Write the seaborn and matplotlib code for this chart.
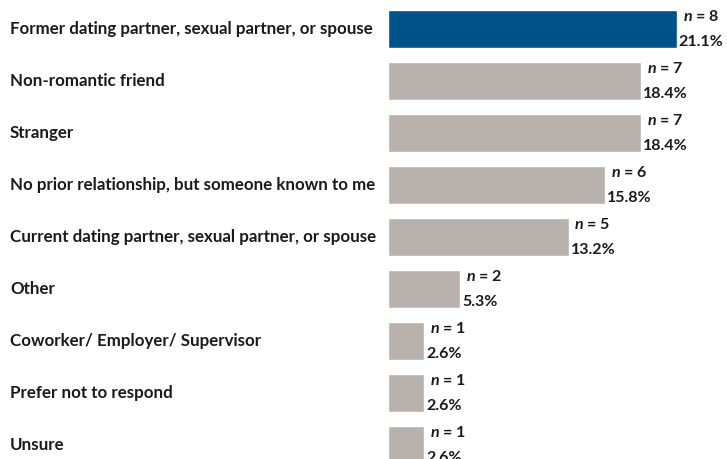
import matplotlib

matplotlib.use("Agg")
import matplotlib.pyplot as plt
import pandas as pd
import seaborn as sns

# Chart data
categories = [
    "Former dating partner, sexual partner, or spouse",
    "Non-romantic friend",
    "Stranger",
    "No prior relationship, but someone known to me",
    "Current dating partner, sexual partner, or spouse",
    "Other",
    "Coworker/ Employer/ Supervisor",
    "Prefer not to respond",
    "Unsure",
]
counts = [8, 7, 7, 6, 5, 2, 1, 1, 1]
percents = ["21.1%", "18.4%", "18.4%", "15.8%", "13.2%", "5.3%", "2.6%", "2.6%", "2.6%"]

BLUE = "#00538a"
GRAY = "#b8b1ac"
TEXT_COLOR = "#1a1a1a"

sns.set_style("white")
plt.rcParams["font.family"] = ["Lato", "DejaVu Sans"]
plt.rcParams["mathtext.fontset"] = "custom"
plt.rcParams["mathtext.it"] = "Lato:italic:bold"
plt.rcParams["mathtext.rm"] = "Lato:bold"

df = pd.DataFrame({"category": categories, "n": counts, "pct": percents})
df["highlight"] = ["top" if i == 0 else "rest" for i in range(len(df))]

fig = plt.figure(figsize=(7.27, 4.59), dpi=100)
ax = fig.add_axes([388 / 727, 1 - 471 / 459, 1 - 388 / 727, 468 / 459])

sns.barplot(
    data=df,
    x="n",
    y="category",
    hue="highlight",
    palette={"top": BLUE, "rest": GRAY},
    saturation=1,
    dodge=False,
    width=0.73,
    legend=False,
    ax=ax,
)

ax.set_xlim(0, (727 - 388) / 36.1)
ax.set_ylim(len(df) - 0.5, -0.5)
ax.set_xlabel("")
ax.set_ylabel("")
ax.set_xticks([])
ax.set_yticks([])
for s in ax.spines.values():
    s.set_visible(False)

# category labels at the left edge of the figure
for i, cat in enumerate(categories):
    ax.annotate(
        cat,
        xy=(0, i),
        xycoords=("figure fraction", "data"),
        xytext=(10, 0),
        textcoords="offset pixels",
        ha="left",
        va="center",
        fontsize=12.2,
        fontweight="bold",
        color=TEXT_COLOR,
    )

# n and percentage beside each bar
for i, (n, p) in enumerate(zip(counts, percents)):
    ax.annotate(
        f"$n$ = {n}",
        xy=(n, i - 0.38),
        xytext=(6, 0),
        textcoords="offset pixels",
        ha="left",
        va="top",
        fontsize=11.5,
        fontweight="bold",
        color=TEXT_COLOR,
    )
    ax.annotate(
        p,
        xy=(n, i + 0.38),
        xytext=(2, 0),
        textcoords="offset pixels",
        ha="left",
        va="bottom",
        fontsize=11.5,
        fontweight="bold",
        color=TEXT_COLOR,
    )

fig.savefig("out.png", dpi=100)
